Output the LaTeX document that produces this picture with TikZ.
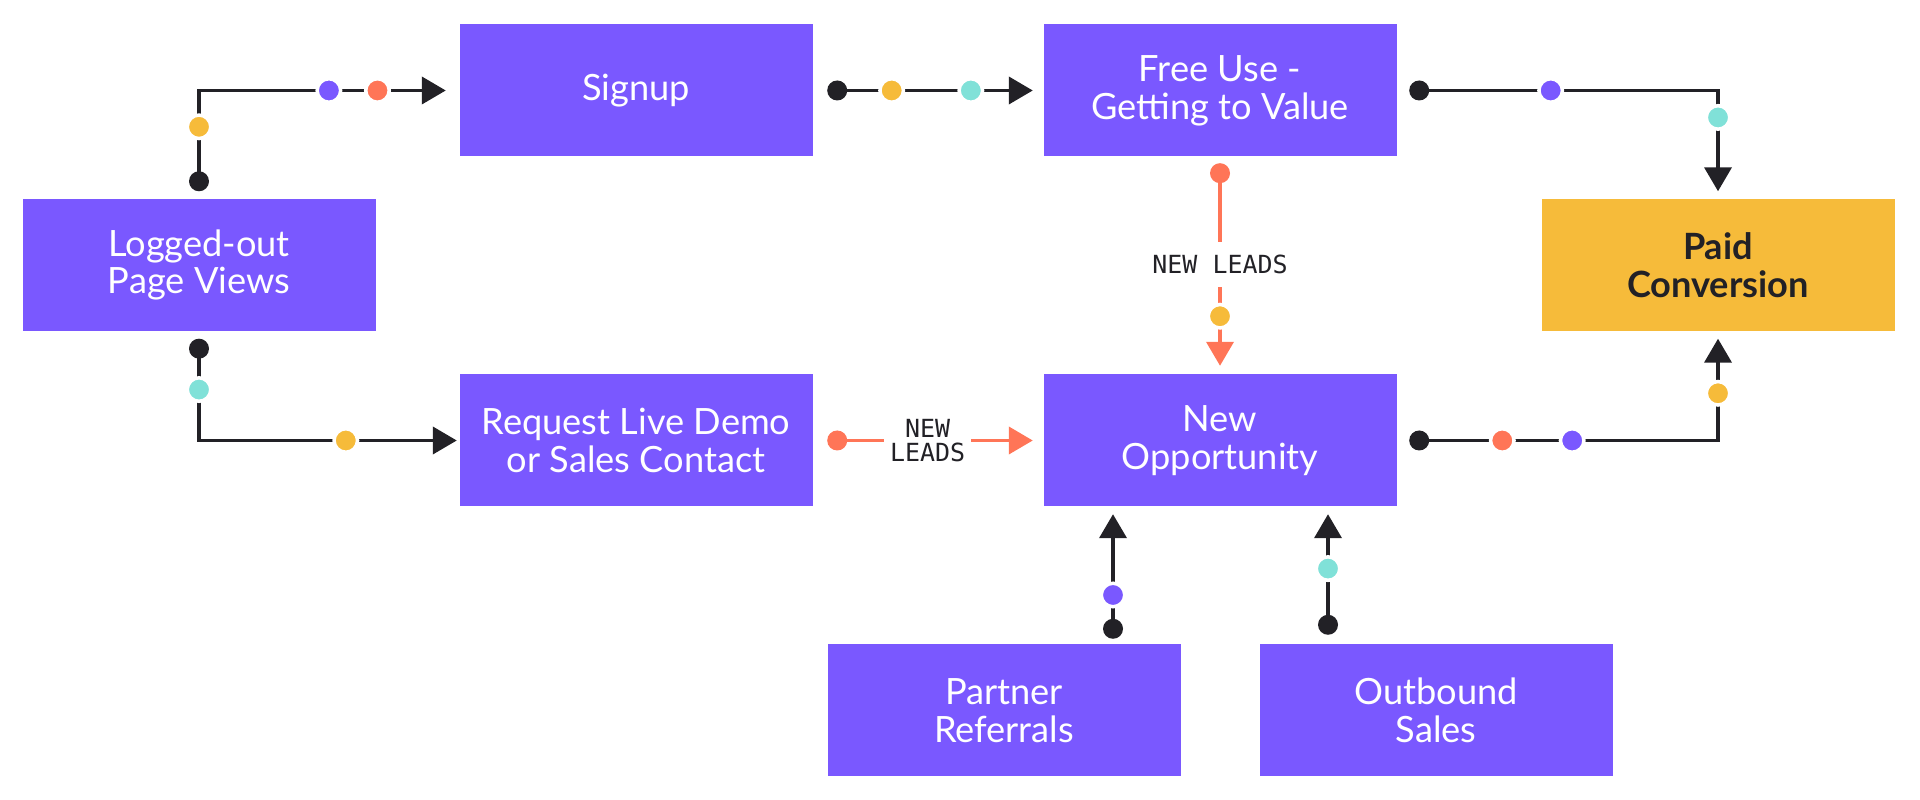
\documentclass[tikz,border=0pt]{standalone}
\usepackage{fontspec}
\setmainfont{Lato}
\newfontfamily\leadsfont{DejaVu Sans Mono}
\usetikzlibrary{arrows.meta}
\definecolor{boxpurple}{RGB}{122,88,255}
\definecolor{paidyellow}{RGB}{246,187,58}
\definecolor{leadred}{RGB}{255,117,87}
\definecolor{dotcyan}{RGB}{128,225,216}
\definecolor{inkblack}{RGB}{34,33,38}

\begin{document}
\begin{tikzpicture}[
    stage/.style={fill=boxpurple, text=white, minimum width=3.53cm, minimum height=1.32cm,
        align=center, inner sep=0pt, font=\fontsize{10.3}{10.8}\selectfont},
    link/.style={draw=inkblack, line width=1.1pt, -{Triangle[length=0.24cm,width=0.27cm]}},
    redlink/.style={link, draw=leadred},
    bead/.style={circle, inner sep=0pt, minimum size=0.235cm, draw=white, line width=0.035cm, fill=#1},
    startbead/.style={circle, inner sep=0pt, minimum size=0.2cm, fill=#1},
    leadtag/.style={fill=white, inner xsep=0.06cm, inner ysep=0.13cm, text=inkblack, align=center,
        font=\leadsfont\fontsize{7.1}{6.8}\selectfont}
]
    \useasboundingbox (0,0) rectangle (19.2,8);

    % Stages
    \node[stage] (logged) at (1.99,5.35) {Logged-out\\Page Views};
    \node[stage] (signup) at (6.36,7.095) {Signup};
    \node[stage] (free) at (12.20,7.095) {Free Use -\\Getting to Value};
    \node[stage, fill=paidyellow, text=inkblack, font=\bfseries\fontsize{10.3}{10.8}\selectfont]
        (paid) at (17.18,5.35) {Paid\\Conversion};
    \node[stage] (request) at (6.36,3.595) {Request Live Demo\\or Sales Contact};
    \node[stage] (newopp) at (12.20,3.595) {New\\Opportunity};
    \node[stage] (partner) at (10.04,0.895) {Partner\\Referrals};
    \node[stage] (outbound) at (14.36,0.895) {Outbound\\Sales};

    % Top row
    \draw[link, shorten >=0.13cm] ([yshift=0.17cm]logged.north) node[startbead=inkblack]{}
        -- (logged.north |- signup.west) node[bead=paidyellow, pos=0.6]{}
        -- (signup.west) node[bead=boxpurple, pos=0.5]{} node[bead=leadred, pos=0.687]{};
    \draw[link, shorten >=0.1cm] ([xshift=0.24cm]signup.east) node[startbead=inkblack]{}
        -- (free.west) node[bead=paidyellow, pos=0.265]{} node[bead=dotcyan, pos=0.65]{};
    \draw[link, shorten >=0.07cm] ([xshift=0.22cm]free.east) node[startbead=inkblack]{}
        -- (paid.north |- free.east) node[bead=boxpurple, pos=0.44]{}
        -- (paid.north) node[bead=dotcyan, pos=0.25]{};

    % Bottom row
    \draw[link, shorten >=0.02cm] ([yshift=-0.17cm]logged.south) node[startbead=inkblack]{}
        -- (logged.south |- request.west) node[bead=dotcyan, pos=0.445]{}
        -- (request.west) node[bead=paidyellow, pos=0.565]{};
    \draw[link, shorten >=0.07cm] ([xshift=0.22cm]newopp.east) node[startbead=inkblack]{}
        -- (paid.south |- newopp.east) node[bead=leadred, pos=0.278]{} node[bead=boxpurple, pos=0.512]{}
        -- (paid.south) node[bead=paidyellow, pos=0.434]{};

    % New leads
    \draw[redlink, shorten >=0.08cm] ([yshift=-0.16cm]free.south) node[startbead=leadred]{}
        -- (newopp.north) node[leadtag, pos=0.455]{NEW LEADS} node[bead=paidyellow, pos=0.713]{};
    \draw[redlink, shorten >=0.1cm] ([xshift=0.24cm]request.east) node[startbead=leadred]{}
        -- (newopp.west) node[leadtag, pos=0.44]{NEW\\LEADS};

    % Referrals and outbound
    \coordinate (partnerout) at ([xshift=1.09cm, yshift=0.15cm]partner.north);
    \coordinate (outboundout) at ([xshift=-1.08cm, yshift=0.19cm]outbound.north);
    \draw[link, shorten >=0.07cm] (partnerout) node[startbead=inkblack]{}
        -- (partnerout |- newopp.south) node[bead=boxpurple, pos=0.278]{};
    \draw[link, shorten >=0.07cm] (outboundout) node[startbead=inkblack]{}
        -- (outboundout |- newopp.south) node[bead=dotcyan, pos=0.478]{};
\end{tikzpicture}
\end{document}
